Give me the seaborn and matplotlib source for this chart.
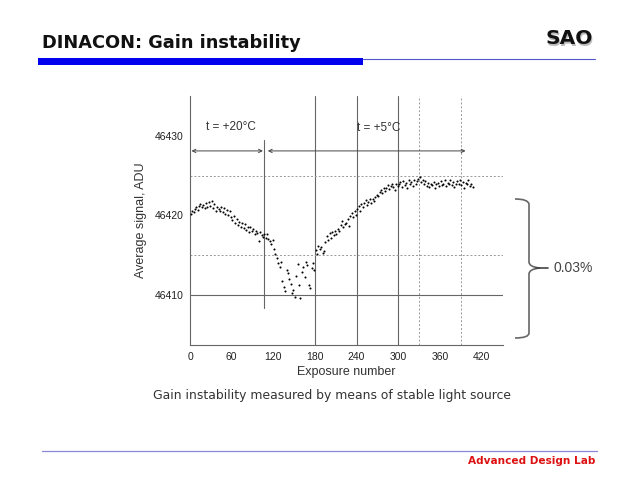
import numpy as np
import pandas as pd
import matplotlib
matplotlib.use("Agg")
import matplotlib.pyplot as plt
from matplotlib.lines import Line2D
from matplotlib.patches import PathPatch, Rectangle
from matplotlib.path import Path
import seaborn as sns

# ---------------- data ----------------
exposure = list(range(1, 408, 2))
signal = [
    46420.2, 46420.5, 46420.4, 46420.8, 46421.0, 46420.7, 46421.2, 46421.4, 46421.0, 46421.3, 46420.9, 46421.5, 46421.1, 46421.7, 46421.2,
    46421.8, 46420.9, 46421.4, 46420.6, 46421.1, 46420.8, 46420.5, 46421.0, 46420.4, 46420.9, 46420.2, 46420.7, 46420.0, 46420.5, 46419.8,
    46419.4, 46419.9, 46419.0, 46419.5, 46418.8, 46419.2, 46418.6, 46419.0, 46418.4, 46418.9, 46418.2, 46418.6, 46417.9, 46418.5, 46418.0,
    46418.3, 46417.6, 46418.1, 46417.8, 46416.8, 46417.9, 46417.5, 46417.3, 46417.7, 46417.2, 46417.6, 46417.0, 46416.8, 46416.4, 46416.9,
    46415.8, 46415.2, 46414.6, 46414.0, 46413.5, 46414.1, 46411.8, 46411.0, 46410.5, 46413.2, 46412.8, 46412.0, 46411.4, 46410.3, 46410.6,
    46409.8, 46412.4, 46413.9, 46411.2, 46409.6, 46412.9, 46413.5, 46412.2, 46414.2, 46413.8, 46411.3, 46410.9, 46413.4, 46414.0, 46413.1,
    46415.6, 46415.1, 46416.2, 46415.8, 46416.0, 46415.3, 46415.5, 46416.6, 46417.4, 46416.9, 46417.8, 46417.2, 46417.9, 46417.5, 46418.1,
    46417.6, 46418.3, 46418.0, 46418.8, 46419.3, 46418.5, 46418.9, 46419.0, 46419.6, 46418.7, 46419.9, 46420.3, 46419.8, 46420.6, 46420.1,
    46420.8, 46421.2, 46420.6, 46421.4, 46421.0, 46421.6, 46421.9, 46421.3, 46421.7, 46422.0, 46421.5, 46422.1, 46421.8, 46422.3, 46422.6,
    46422.4, 46422.9, 46423.2, 46422.8, 46423.5, 46423.1, 46423.4, 46423.8, 46423.3, 46423.7, 46423.9, 46423.6, 46423.2, 46424.0, 46423.7,
    46423.9, 46424.2, 46423.6, 46424.3, 46423.8, 46424.1, 46423.5, 46424.4, 46423.9, 46424.2, 46423.7, 46424.5, 46424.0, 46424.3, 46424.6,
    46424.8, 46424.2, 46424.5, 46423.9, 46424.3, 46423.7, 46424.1, 46423.6, 46424.0, 46423.8, 46424.2, 46423.5, 46423.9, 46424.1, 46423.7,
    46424.3, 46423.8, 46424.0, 46424.4, 46423.7, 46424.1, 46423.9, 46424.5, 46423.8, 46424.2, 46423.6, 46424.0, 46424.3, 46423.9, 46424.4,
    46423.8, 46424.2, 46423.5, 46424.1, 46423.9, 46424.4, 46423.7, 46424.0, 46423.6,
]
x_ticks = [0, 60, 120, 180, 240, 300, 360, 420]
y_ticks = [46410, 46420, 46430]
solid_vlines = [180, 240, 300]
dotted_vlines = [330, 391]
dotted_hlines = [46415, 46425]
solid_hline = 46410
phase_split = 107
label_20 = "t = +20°C"
label_5 = "t = +5°C"
range_label = "0.03%"

df = pd.DataFrame({"Exposure number": exposure, "signal": signal})

# ---------------- figure ----------------
sns.set_style("white")
plt.rcParams["font.family"] = ["Liberation Sans", "DejaVu Sans"]
fig = plt.figure(figsize=(6.4, 4.8), dpi=100)
ax = fig.add_axes([0.297, 0.281, 0.489, 0.519])

sns.scatterplot(data=df, x="Exposure number", y="signal", ax=ax,
                s=2.2, color="black", linewidth=0, marker="o", zorder=5)

ax.set_xlim(0, 451)
ax.set_ylim(46403.7, 46435)

grid_col = "#666666"
for v in solid_vlines:
    ax.axvline(v, color=grid_col, lw=0.8, zorder=1)
for v in dotted_vlines:
    ax.axvline(v, color="#999999", lw=0.7, ls=(0, (2, 2)), zorder=1)
for h in dotted_hlines:
    ax.axhline(h, color="#999999", lw=0.7, ls=(0, (2, 2)), zorder=1)
ax.axhline(solid_hline, color=grid_col, lw=0.8, zorder=1)
ax.plot([phase_split, phase_split], [46408.4, 46429.5], color=grid_col, lw=0.8, zorder=1)

arrow_kw = dict(arrowstyle="<->", color="#444444", lw=0.7, shrinkA=0, shrinkB=0,
                mutation_scale=6)
ax.annotate("", xy=(2, 46428.1), xytext=(105, 46428.1), arrowprops=arrow_kw)
ax.annotate("", xy=(112, 46428.1), xytext=(397, 46428.1), arrowprops=arrow_kw)
ax.text(23, 46431.1, label_20, fontsize=8.5, color="#333333", va="center")
ax.text(241, 46431.0, label_5, fontsize=8.5, color="#333333", va="center")

ax.set_xticks(x_ticks)
ax.set_yticks(y_ticks)
ax.set_xticks([30, 90, 150, 210, 270, 330, 390, 450], minor=True)
ax.tick_params(axis="both", which="major", direction="out", length=3, width=0.7,
               color="#555555", labelsize=7.5, labelcolor="#222222", pad=2)
ax.tick_params(axis="x", which="minor", direction="in", length=2, width=0.7, color="#555555")
ax.set_xlabel("Exposure number", fontsize=9, color="#333333", labelpad=3)
ax.set_ylabel("Average signal, ADU", fontsize=9, color="#333333", labelpad=5)
ax.yaxis.set_major_formatter(matplotlib.ticker.FormatStrFormatter("%d"))
for s in ["top", "right"]:
    ax.spines[s].set_visible(False)
for s in ["left", "bottom"]:
    ax.spines[s].set_color("#666666")
    ax.spines[s].set_linewidth(0.8)

# ---------------- slide decorations ----------------
def fx(x):
    return x / 640.0

def fy(y):
    return 1 - y / 480.0

fig.text(fx(42), fy(43), "DINACON: Gain instability", fontsize=12.8, fontweight="bold",
         family="DejaVu Sans", color="#111111", va="center", ha="left")
fig.text(fx(593) + 0.002, fy(39) - 0.003, "SAO", fontsize=14.5, fontweight="bold",
         family="DejaVu Sans", color="#bbbbbb", va="center", ha="right")
fig.text(fx(593), fy(39), "SAO", fontsize=14.5, fontweight="bold",
         family="DejaVu Sans", color="#111111", va="center", ha="right")
fig.add_artist(Rectangle((fx(38), fy(65)), fx(363) - fx(38), fy(58) - fy(65),
                         transform=fig.transFigure, color="#0000ee", lw=0))
fig.add_artist(Line2D([fx(363), fx(595)], [fy(58.5), fy(58.5)], transform=fig.transFigure,
                      color="#5555cc", lw=0.8))
fig.add_artist(Line2D([fx(42), fx(597)], [fy(451), fy(451)], transform=fig.transFigure,
                      color="#8888dd", lw=0.9))
fig.text(fx(595), fy(461), "Advanced Design Lab", fontsize=7.6, fontweight="bold",
         family="DejaVu Sans", color="#dd1111", va="center", ha="right")
fig.text(fx(153), fy(395), "Gain instability measured by means of stable light source",
         fontsize=8.9, family="DejaVu Sans", color="#333333", va="center", ha="left")

# brace
verts = [(fx(515), fy(199)), (fx(528), fy(199)), (fx(529), fy(204)),
         (fx(529), fy(262)),
         (fx(529), fy(267)), (fx(540), fy(268)),
         (fx(529), fy(269)), (fx(529), fy(274)),
         (fx(529), fy(333)),
         (fx(529), fy(338)), (fx(515), fy(338))]
codes = [Path.MOVETO, Path.CURVE3, Path.CURVE3,
         Path.LINETO,
         Path.CURVE3, Path.CURVE3,
         Path.CURVE3, Path.CURVE3,
         Path.LINETO,
         Path.CURVE3, Path.CURVE3]
fig.add_artist(PathPatch(Path(verts, codes), transform=fig.transFigure, fill=False,
                         edgecolor="#666666", lw=1.2))
fig.add_artist(Line2D([fx(536), fx(548)], [fy(268), fy(268)], transform=fig.transFigure,
                      color="#444444", lw=1.2))
fig.text(fx(553), fy(268), range_label, fontsize=10, color="#444444", va="center", ha="left")

fig.savefig("out.png", dpi=100)
